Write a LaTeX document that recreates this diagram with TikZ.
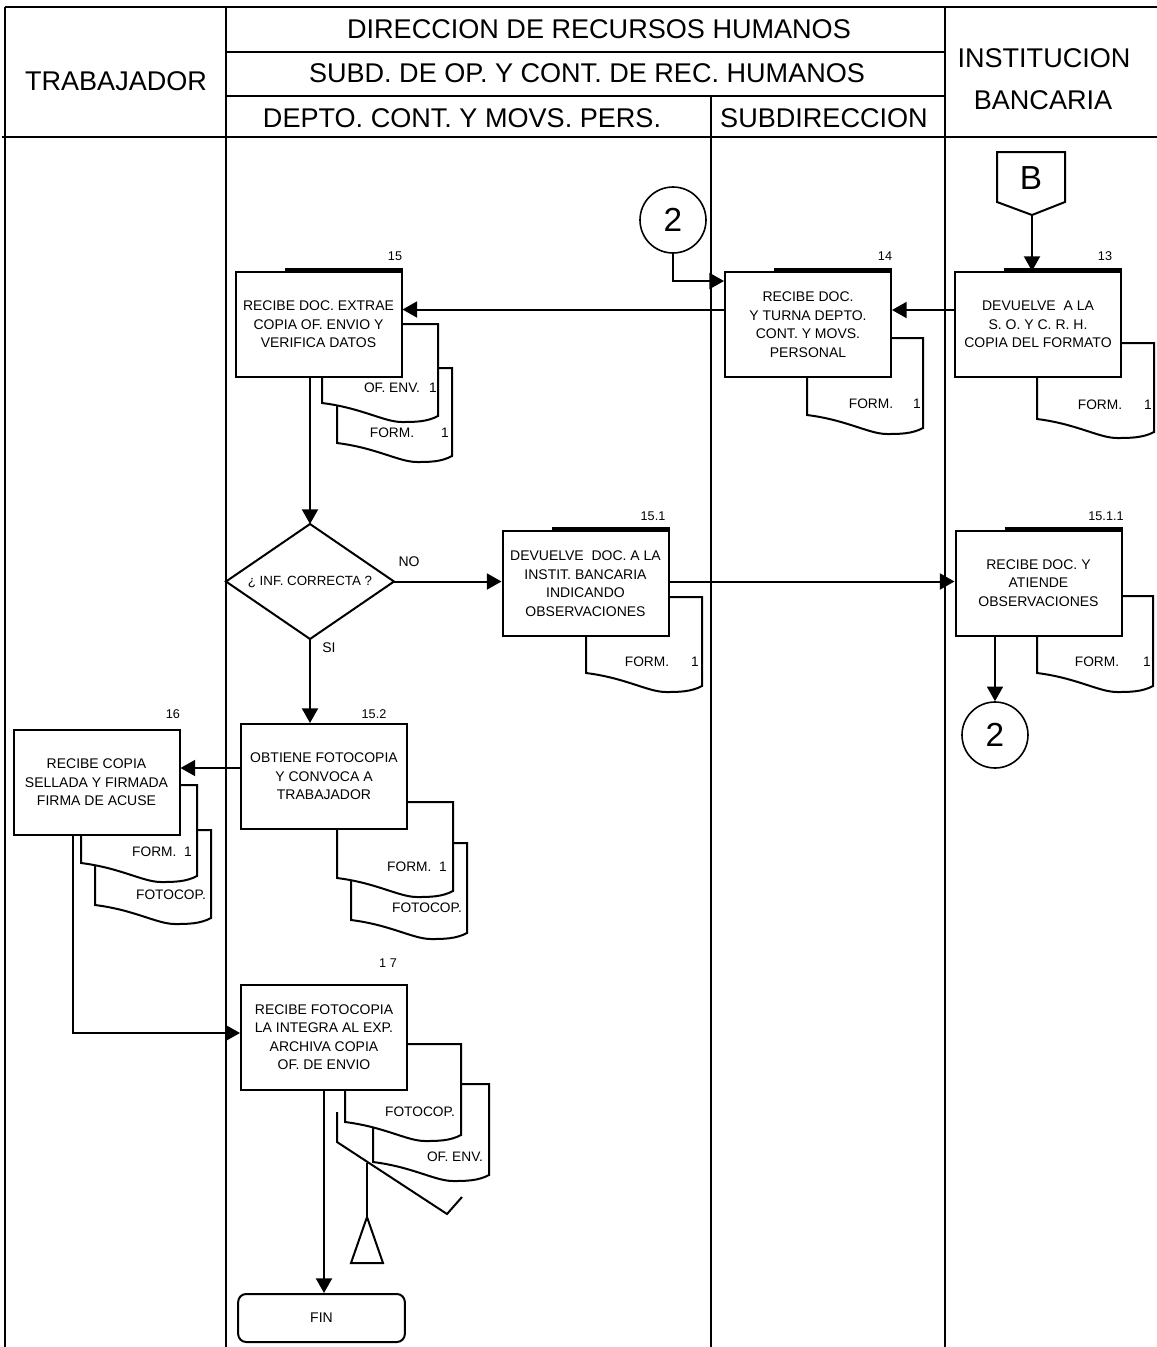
\documentclass[tikz,border=0pt]{standalone}
\usepackage{fontspec}
\setmainfont{Liberation Sans}
\usetikzlibrary{arrows.meta,calc}
\newcommand\docu[4]{\filldraw[docst] (#1,#2) -- (#3,#2) -- (#3,{#4+13}) .. controls ({#3-11},{#4+19}) and ({#1+92},{#4+19}) .. ({#1+80},{#4+19}) .. controls ({#1+62},{#4+19}) and ({#1+40},{#4+5}) .. (#1,#4) -- cycle;}
\begin{document}
\begin{tikzpicture}[x=0.75pt,y=-0.75pt,line width=1.5pt,
  proc/.style={draw,fill=white,minimum width=124.5pt,minimum height=78.75pt,inner sep=1pt,align=center,font=\fontsize{10.5}{13.9}\selectfont},
  docst/.style={draw,fill=white,line width=1.5pt},
  lbl/.style={inner sep=0pt,font=\fontsize{10.3}{12}\selectfont},
  num/.style={inner sep=0pt,font=\fontsize{9.5}{11}\selectfont},
  head/.style={inner sep=0pt,font=\fontsize{20.3}{24}\selectfont},
  conn/.style={draw,fill=white,circle,minimum size=49.5pt,inner sep=0pt,line width=1.2pt,font=\fontsize{25}{28}\selectfont},
  bar/.style={line width=3pt},
  arr/.style={-{Triangle[length=11pt,width=12pt]}}]
\fill[white] (0,0) rectangle (1157,1347);
\useasboundingbox (0,0) rectangle (1157,1347);

% header and lanes
\draw (5,7) -- (1157,7);
\draw (5,7) -- (5,1347);
\draw (226,52) -- (945,52);
\draw (226,96) -- (945,96);
\draw (2,137) -- (1157,137);
\draw (226,7) -- (226,1347);
\draw (711,96) -- (711,1347);
\draw (945,7) -- (945,1347);

\node[head] (hDir) at (599,29) {DIRECCION DE RECURSOS HUMANOS};
\node[head] (hSub) at (587,73) {SUBD. DE OP. Y CONT. DE REC. HUMANOS};
\node[head] (hDep) at (462,118) {DEPTO. CONT. Y MOVS. PERS.};
\node[head] (hSubd) at (824,118) {SUBDIRECCION};
\node[head] (hTrab) at (116,81) {TRABAJADOR};
\node[head] (hInst) at (1044,58) {INSTITUCION};
\node[head] (hBanc) at (1043,100) {BANCARIA};

% documents (back first)
\docu{337}{368}{452}{443}
\docu{322}{324}{438}{403}
\docu{807}{338}{923}{415}
\docu{1037}{343}{1154}{419}
\docu{586}{597}{702}{673}
\docu{1037}{596}{1153}{673}
\docu{95}{830}{211}{905}
\docu{81}{785}{197}{863}
\docu{351}{843}{467}{920}
\docu{337}{802}{453}{878}
\docu{373}{1084}{489}{1162}
\docu{345}{1044}{461}{1122}

% document labels
\node[lbl] (d15a) at (392,388) {OF. ENV.};
\node[lbl] (d15a1) at (433,388) {1};
\node[lbl] (d15b) at (392,433) {FORM.};
\node[lbl] (d15b1) at (445,433) {1};
\node[lbl] (d14) at (871,404) {FORM.};
\node[lbl] (d141) at (917,404) {1};
\node[lbl] (d13) at (1100,405) {FORM.};
\node[lbl] (d131) at (1148,405) {1};
\node[lbl] (d151) at (647,662) {FORM.};
\node[lbl] (d1511) at (695,662) {1};
\node[lbl] (d1511b) at (1097,662) {FORM.};
\node[lbl] (d1511c) at (1147,662) {1};
\node[lbl] (d16a) at (162,852) {FORM.\ \ 1};
\node[lbl] (d16b) at (171,895) {FOTOCOP.};
\node[lbl] (d152a) at (417,867) {FORM.\ \ 1};
\node[lbl] (d152b) at (427,908) {FOTOCOP.};
\node[lbl] (d17a) at (420,1112) {FOTOCOP.};
\node[lbl] (d17b) at (455,1157) {OF. ENV.};

% process boxes
\node[proc] (b15) at (318.5,324.5) {RECIBE DOC. EXTRAE\\COPIA OF. ENVIO Y\\VERIFICA DATOS};
\node[proc] (b14) at (808,324.5) {RECIBE DOC.\\Y TURNA DEPTO.\\CONT. Y MOVS.\\PERSONAL};
\node[proc] (b13) at (1038,324.5) {DEVUELVE\ \ A LA\\S. O. Y C. R. H.\\COPIA DEL FORMATO};
\node[proc] (b151) at (585.5,583.5) {DEVUELVE\ \ DOC. A LA\\INSTIT. BANCARIA\\INDICANDO\\OBSERVACIONES};
\node[proc] (b1511) at (1038.5,583) {RECIBE DOC. Y\\ATIENDE\\OBSERVACIONES};
\node[proc] (b16) at (96.5,782.5) {RECIBE COPIA\\SELLADA Y FIRMADA\\FIRMA DE ACUSE};
\node[proc] (b152) at (324,776.5) {OBTIENE FOTOCOPIA\\Y CONVOCA A\\TRABAJADOR};
\node[proc] (b17) at (324,1037) {RECIBE FOTOCOPIA\\LA INTEGRA AL EXP.\\ARCHIVA COPIA\\OF. DE ENVIO};
\node[draw,fill=white,rounded corners=6pt,minimum width=125pt,minimum height=36pt,inner sep=0pt,font=\fontsize{10.5}{13}\selectfont] (fin) at (321.5,1318) {FIN};

% thick top bars
\foreach \b in {b15,b14,b13,b151,b1511}{
  \draw[bar] ($(\b.north west)+(50,-1)$) -- ($(\b.north east)+(0,-1)$);
}

% step numbers
\node[num] (n15) at (395,256) {15};
\node[num] (n14) at (885,256) {14};
\node[num] (n13) at (1105,256) {13};
\node[num] (n151) at (653,516) {15.1};
\node[num] (n1511) at (1106,516) {15.1.1};
\node[num] (n16) at (173,714) {16};
\node[num] (n152) at (374,714) {15.2};
\node[num] (n17) at (388,963) {1 7};

% decision
\node[inner sep=0pt,minimum width=124.5pt,minimum height=84.75pt,font=\fontsize{10}{12}\selectfont] (dia) at (310,581.5) {¿ INF. CORRECTA ?};
\draw (dia.north) -- (dia.east) -- (dia.south) -- (dia.west) -- cycle;
\node[lbl,font=\fontsize{10.5}{12}\selectfont] (lNO) at (409,562) {NO};
\node[lbl,font=\fontsize{10.5}{12}\selectfont] (lSI) at (329,648) {SI};

% connectors (on-page)
\node[conn] (c2a) at (673,220) {2};
\node[conn] (c2b) at (995,735) {2};

% off-page connector B
\draw (997,152) -- (1065,152) -- (1065,202) -- (1032,215) -- (997,202) -- cycle;
\node[inner sep=0pt,font=\fontsize{25}{28}\selectfont] (offB) at (1031,178) {B};
\coordinate (Btip) at (1032,215);

% archive symbol
\draw (337,1112) -- (337,1142) -- (447,1214) -- (462,1197);
\coordinate (arcTop) at (367,1163);
\coordinate (arcApex) at (367,1217);
\draw (arcTop) -- (arcApex);
\draw (arcApex) -- (383,1263) -- (351,1263) -- cycle;

% flows
\draw[arr] (Btip) -- (Btip |- b13.north);
\draw[arr] (c2a.south) |- ($(b14.north west)+(0,10)$);
\draw[arr] ($(b13.west)+(0,-14.5)$) -- ($(b14.east)+(0,-14.5)$);
\draw[arr] ($(b14.west)+(0,-15)$) -- ($(b15.east)+(0,-15)$);
\draw[arr] (b15.south -| dia.north) -- (dia.north);
\draw[arr] (dia.east) -- (dia.east -| b151.west);
\draw[arr] (b151.east |- dia.east) -- (dia.east -| b1511.west);
\draw[arr] (c2b.north |- b1511.south) -- (c2b.north);
\draw[arr] (dia.south) -- (dia.south |- b152.north);
\coordinate (p152) at ($(b152.west)+(0,-8.5)$);
\draw[arr] (p152) -- (p152 -| b16.east);
\draw[arr] ($(b16.south)+(-23.5,0)$) |- ($(b17.west)+(0,-4)$);
\draw[arr] (b17.south) -- (b17.south |- fin.north);
\end{tikzpicture}
\end{document}
